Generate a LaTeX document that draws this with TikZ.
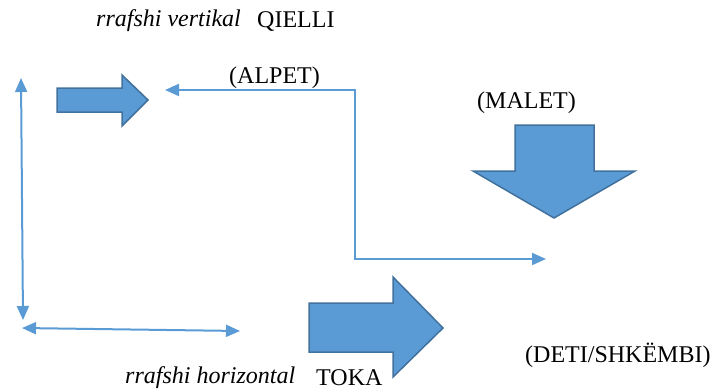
\documentclass[tikz,border=0pt]{standalone}
\usepackage{fontspec}
\setmainfont{Liberation Serif}
\usetikzlibrary{arrows.meta}
\definecolor{blu}{HTML}{5B9BD5}
\definecolor{bluedge}{HTML}{41719C}

\tikzset{
  blockarrow/.style={fill=blu,draw=bluedge,line width=1.5pt,line join=miter},
  thinarrow/.style={draw=blu,line width=2pt,{Triangle[length=14pt,width=12pt]}-{Triangle[length=14pt,width=12pt]}},
  lbl/.style={inner sep=0pt,anchor=west,font=\fontsize{24}{28}\selectfont}
}

\begin{document}
\begin{tikzpicture}[x=1pt,y=-1pt]
  \useasboundingbox (0,0) rectangle (712,391);
  % labels
  \node[lbl] (vert) at (96,21) {\itshape rrafshi vertikal};
  \node[lbl] (qielli) at (257,21) {QIELLI};
  \node[lbl] (alpet) at (229,78) {(ALPET)};
  \node[lbl] (malet) at (477,103) {(MALET)};
  \node[lbl] (deti) at (525,355) {(DETI/SHKËMBI)};
  \node[lbl] (horiz) at (125,378) {\itshape rrafshi horizontal};
  \node[lbl] (toka) at (316,378) {TOKA};
  % axes
  \coordinate (vtop) at (21,78);
  \coordinate (vbot) at (23,320);
  \coordinate (hleft) at (22,328);
  \coordinate (hright) at (240,331);
  \draw[thinarrow] (vtop) -- (vbot);
  \draw[thinarrow] (hleft) -- (hright);
  % bent connector
  \coordinate (pleft) at (165,90);
  \coordinate (pright) at (546,259);
  \draw[thinarrow] (pleft) -- (355,90) -- (355,259) -- (pright);
  % block arrows
  \draw[blockarrow] (57,88) -- (122,88) -- (122,75) -- (148,100) -- (122,126)
    -- (122,112) -- (57,112) -- cycle;
  \draw[blockarrow] (515,125) -- (594,125) -- (594,171) -- (635,171) -- (554,218)
    -- (473,171) -- (515,171) -- cycle;
  \draw[blockarrow] (309,303) -- (393,303) -- (393,277) -- (443,328) -- (393,377)
    -- (393,352) -- (309,352) -- cycle;
\end{tikzpicture}
\end{document}
